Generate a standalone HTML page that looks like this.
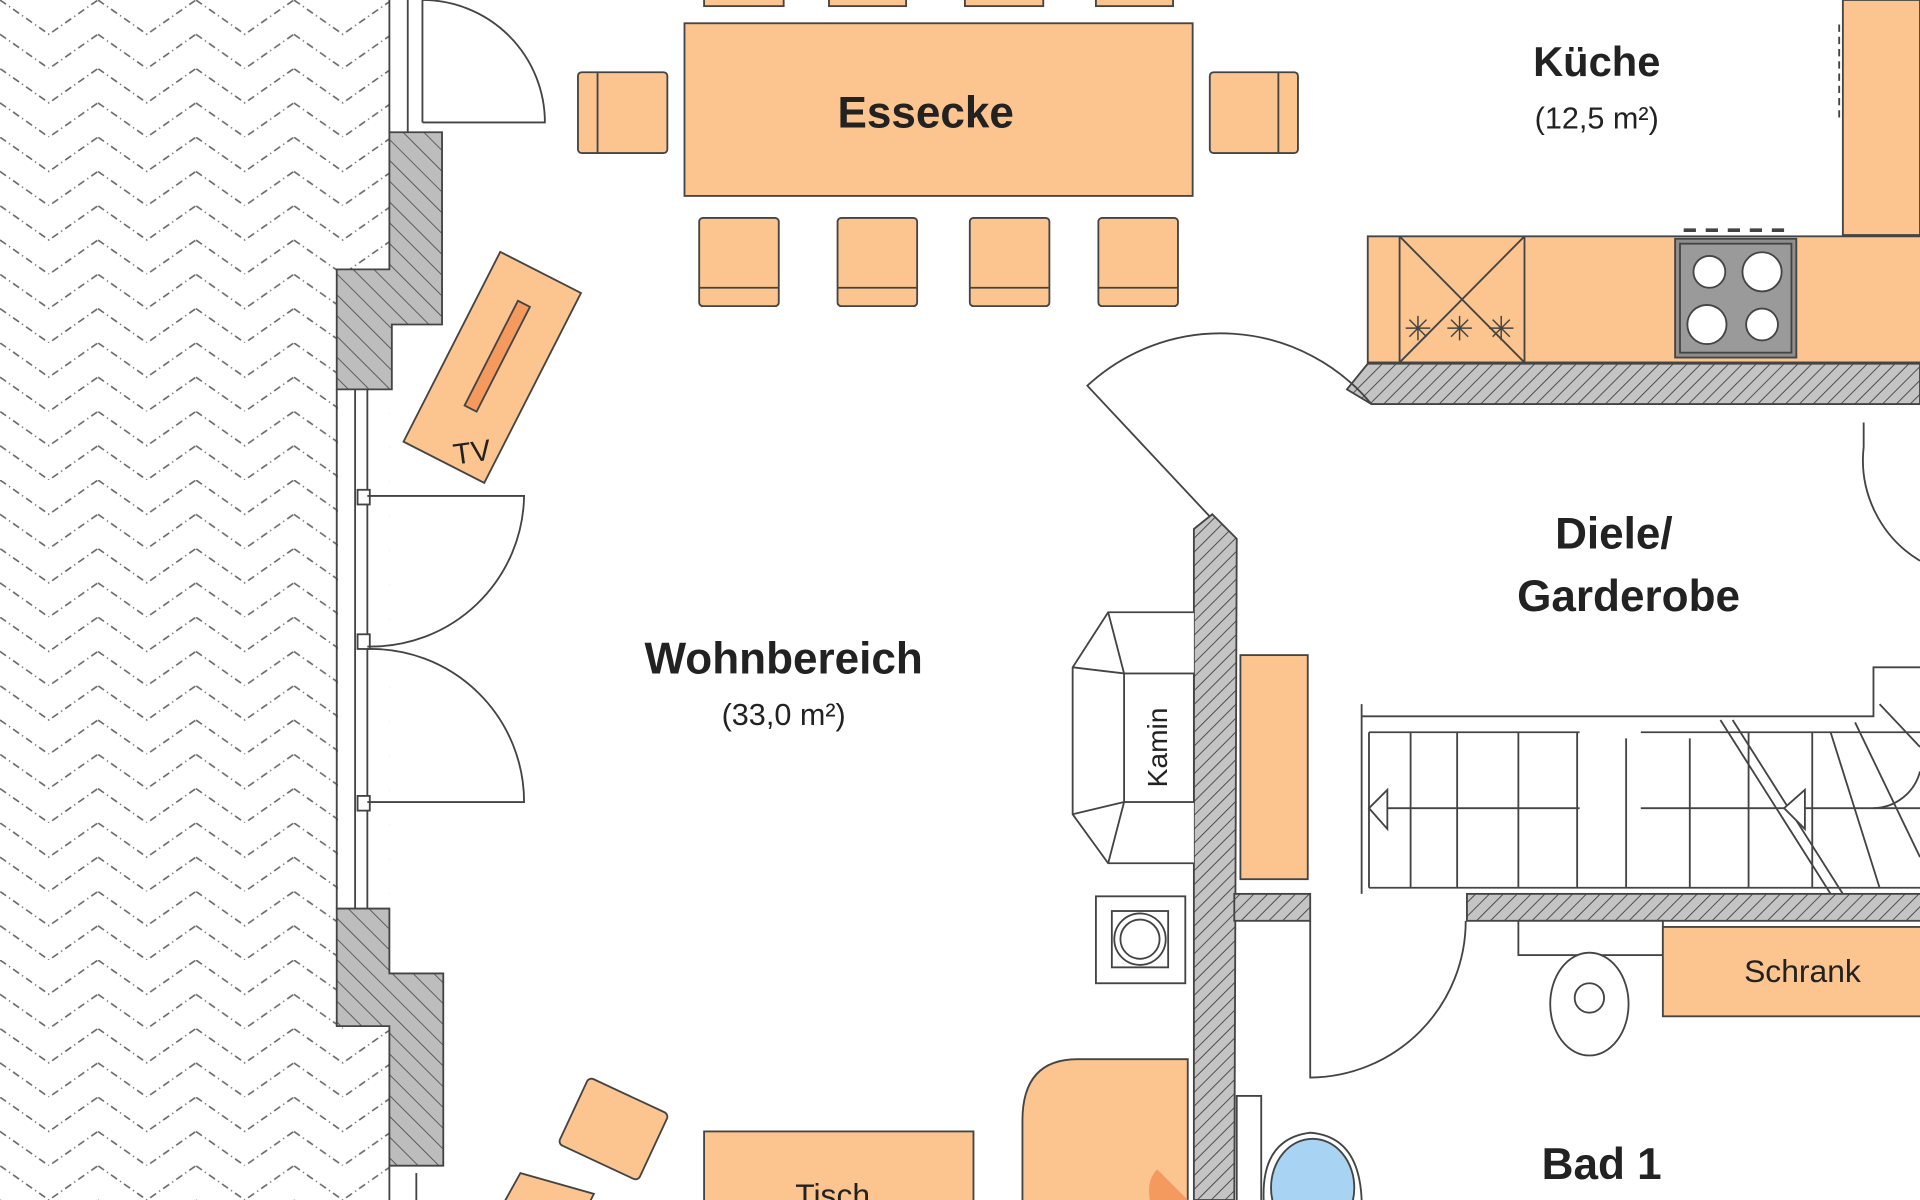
<!DOCTYPE html>
<html><head><meta charset="utf-8"><style>
html,body{margin:0;padding:0;background:#fff;width:1920px;height:1200px;overflow:hidden}
svg{display:block}
text{font-family:"Liberation Sans","DejaVu Sans",sans-serif;fill:#222}
.b{font-weight:bold}
</style></head><body>
<svg width="1920" height="1200" viewBox="0 0 1568 980" xmlns="http://www.w3.org/2000/svg">
<defs>
<pattern id="hb" width="80" height="56" patternUnits="userSpaceOnUse">
<path d="M0,0 L40,28 L80,0 M0,28 L40,56 L80,28" fill="none" stroke="#666" stroke-width="1.3" stroke-dasharray="6,3,1,3"/>
</pattern>
<pattern id="hatch" width="8" height="8" patternUnits="userSpaceOnUse" patternTransform="rotate(45)">
<rect width="8" height="8" fill="#c4c4c4"/><line x1="0" y1="0" x2="0" y2="8" stroke="#444" stroke-width="1.5"/>
</pattern>
<pattern id="hatch2" width="12" height="12" patternUnits="userSpaceOnUse" patternTransform="rotate(-45)">
<rect width="12" height="12" fill="#bdbdbd"/><line x1="0" y1="0" x2="0" y2="12" stroke="#444" stroke-width="1.3"/>
</pattern>
</defs>
<g stroke="#444" stroke-width="1.5">
<rect x="0" y="0" width="318" height="980" fill="url(#hb)" stroke="none"/>
<rect x="276" y="318" width="42" height="424" fill="#fff" stroke="none"/>
<line x1="318" y1="0" x2="318" y2="108"/>
<line x1="333" y1="0" x2="333" y2="108"/><line x1="345" y1="0" x2="345" y2="100"/>
<path d="M345,100 L445,100 A100,100 0 0 0 345,0" fill="none"/>
<path d="M318,108 L361,108 L361,265 L320,265 L320,318 L275,318 L275,220 L318,220 Z" fill="url(#hatch2)"/>
<path d="M275,742 L318,742 L318,795 L362,795 L362,952 L318,952 L318,838 L275,838 Z" fill="url(#hatch2)"/>
<line x1="275" y1="318" x2="275" y2="742"/>
<line x1="290" y1="318" x2="290" y2="742"/><line x1="300" y1="318" x2="300" y2="742"/>
<rect x="292" y="400" width="10" height="12" fill="#fff"/>
<rect x="292" y="518" width="10" height="12" fill="#fff"/>
<rect x="292" y="650" width="10" height="12" fill="#fff"/>
<path d="M300,405 L428,405 A125,125 0 0 1 300,528" fill="none"/>
<path d="M300,655 L428,655 A125,125 0 0 0 300,530" fill="none"/>
<line x1="318" y1="952" x2="318" y2="980"/><line x1="340" y1="958" x2="340" y2="980"/>
<g transform="translate(402,300) rotate(27)">
<rect x="-37" y="-87" width="74" height="174" fill="#fcc48e"/>
<rect x="-6" y="-58" width="11" height="96" fill="#f59a5e"/>
</g>
<text x="370" y="377" font-size="24" stroke="none" transform="rotate(-8 388 368)">TV</text>
<g fill="#fcc48e">
<rect x="559" y="19" width="415" height="141"/>
<rect x="575" y="-10" width="65" height="15"/><rect x="677" y="-10" width="63" height="15"/>
<rect x="788" y="-10" width="64" height="15"/><rect x="895" y="-10" width="63" height="15"/>
<rect x="571" y="178" width="65" height="72" rx="3"/><rect x="684" y="178" width="65" height="72" rx="3"/>
<rect x="792" y="178" width="65" height="72" rx="3"/><rect x="897" y="178" width="65" height="72" rx="3"/>
<rect x="472" y="59" width="73" height="66" rx="3"/><rect x="988" y="59" width="72" height="66" rx="3"/>
</g>
<line x1="571" y1="235" x2="636" y2="235"/><line x1="684" y1="235" x2="749" y2="235"/>
<line x1="792" y1="235" x2="857" y2="235"/><line x1="897" y1="235" x2="962" y2="235"/>
<line x1="488" y1="59" x2="488" y2="125"/><line x1="1044" y1="59" x2="1044" y2="125"/>
<path d="M1505,0 L1505,192 L1568,192 L1568,0 Z" fill="#fcc48e"/>
<line x1="1502" y1="20" x2="1502" y2="100" stroke-dasharray="6,4"/>
<rect x="1117" y="193" width="460" height="103" fill="#fcc48e"/>
<line x1="1143" y1="193" x2="1143" y2="296"/><line x1="1245" y1="193" x2="1245" y2="296"/>
<path d="M1143,193 L1245,296 M1245,193 L1143,296" fill="none"/>
<g stroke-width="1.2">
<path d="M1148,268 h20 M1158,258 v20 M1151,261 l14,14 M1165,261 l-14,14 M1182,268 h20 M1192,258 v20 M1185,261 l14,14 M1199,261 l-14,14 M1216,268 h20 M1226,258 v20 M1219,261 l14,14 M1233,261 l-14,14"/>
</g>
<rect x="1368" y="195" width="99" height="97" fill="#8e8e8e"/>
<rect x="1372" y="199" width="91" height="89" fill="#9a9a9a"/>
<g fill="#fff"><circle cx="1396" cy="222" r="13"/><circle cx="1439" cy="222" r="16"/><circle cx="1394" cy="265" r="16"/><circle cx="1439" cy="265" r="13"/></g>
<line x1="1375" y1="188" x2="1462" y2="188" stroke-width="3" stroke-dasharray="10,8"/>
<path d="M1117,297 L1568,297 L1568,330 L1120,330 L1100,318 Z" fill="url(#hatch)"/>
<path d="M1005,440 L888,315 A160,160 0 0 1 1120,330" fill="none"/>
<path d="M975,432 L990,420 L1010,440 L1008,980 L975,980 Z" fill="url(#hatch)"/>
<rect x="1008" y="730" width="62" height="22" fill="url(#hatch)"/>
<rect x="1198" y="730" width="380" height="22" fill="url(#hatch)"/>
<path d="M1522,345 L1522,365 A96,96 0 0 0 1568,458" fill="none"/>
<path d="M975,500 L905,500 L876,545 L876,665 L905,705 L975,705" fill="#fff"/>
<rect x="918" y="550" width="57" height="105" fill="#fff"/>
<path d="M905,500 L918,550 M876,545 L918,550 M876,665 L918,655 M905,705 L918,655" fill="none"/>
<text x="0" y="0" font-size="23" stroke="none" transform="translate(953,643) rotate(-90)">Kamin</text>
<rect x="895" y="732" width="73" height="71" fill="#fff"/>
<rect x="908" y="744" width="46" height="46" fill="#fff"/>
<circle cx="931" cy="767" r="21" fill="#fff"/><circle cx="931" cy="767" r="16" fill="#fff"/>
<rect x="1013" y="535" width="55" height="183" fill="#fcc48e"/>
<path d="M1112,575 L1112,730 M1112,585 L1530,585 L1530,545 L1568,545" fill="none"/>
<path d="M1118,598 L1290,598 M1340,598 L1568,598 M1118,725 L1568,725 M1118,598 L1118,725" fill="none"/>
<g fill="none">
<path d="M1152,598 V725 M1190,598 V725 M1240,598 V725 M1288,598 V725 M1328,603 V725 M1380,603 V725 M1428,598 V725 M1480,598 V725"/>
<path d="M1118,660 L1290,660 M1340,660 L1568,660"/>
<path d="M1405,588 L1495,730 M1415,588 L1505,730"/>
<path d="M1495,598 L1535,725 M1515,590 L1568,700 M1535,575 L1568,610 M1530,660 A40,40 0 0 0 1568,630"/>
<path d="M1118,660 L1133,645 L1133,677 Z M1457,660 L1474,645 L1474,677 Z" fill="#fff"/>
</g>
<path d="M1070,752 L1070,880 A128,128 0 0 0 1197,752" fill="none"/>
<rect x="1240" y="752" width="118" height="28" fill="#fff"/>
<ellipse cx="1298" cy="820" rx="32" ry="42" fill="#fff"/>
<circle cx="1298" cy="815" r="12" fill="#fff"/>
<rect x="1358" y="757" width="220" height="73" fill="#fcc48e"/>
<text x="1472" y="802" font-size="26" text-anchor="middle" stroke="none">Schrank</text>
<g transform="translate(501,922) rotate(25)"><rect x="-36" y="-30" width="72" height="60" rx="4" fill="#fcc48e"/></g>
<path d="M410,985 L425,958 L485,975 L480,985 Z" fill="#fcc48e"/>
<rect x="575" y="924" width="220" height="70" fill="#fcc48e"/>
<text x="680" y="985" font-size="26" text-anchor="middle" stroke="none">Tisch</text>
<path d="M970,865 L880,865 Q835,865 835,915 L835,990 L970,990 Z" fill="#fcc48e"/>
<path d="M970,980 L945,955 Q935,965 940,985 Z" fill="#f59a5e" stroke="none"/>
<rect x="1010" y="895" width="20" height="90" fill="#fff"/>
<path d="M1032,980 Q1030,930 1070,925 Q1110,928 1112,980" fill="#fff"/>
<ellipse cx="1072" cy="970" rx="34" ry="40" fill="#a9d3f2"/>
</g>
<text x="756" y="104" font-size="36" class="b" text-anchor="middle">Essecke</text>
<text x="1304" y="62" font-size="34" class="b" text-anchor="middle">Küche</text>
<text x="1304" y="105" font-size="25" text-anchor="middle">(12,5 m²)</text>
<text x="640" y="550" font-size="36" class="b" text-anchor="middle">Wohnbereich</text>
<text x="640" y="592" font-size="25" text-anchor="middle">(33,0 m²)</text>
<text x="1318" y="448" font-size="36" class="b" text-anchor="middle">Diele/</text>
<text x="1330" y="499" font-size="36" class="b" text-anchor="middle">Garderobe</text>
<text x="1308" y="963" font-size="36" class="b" text-anchor="middle">Bad 1</text>
</svg>
</body></html>
